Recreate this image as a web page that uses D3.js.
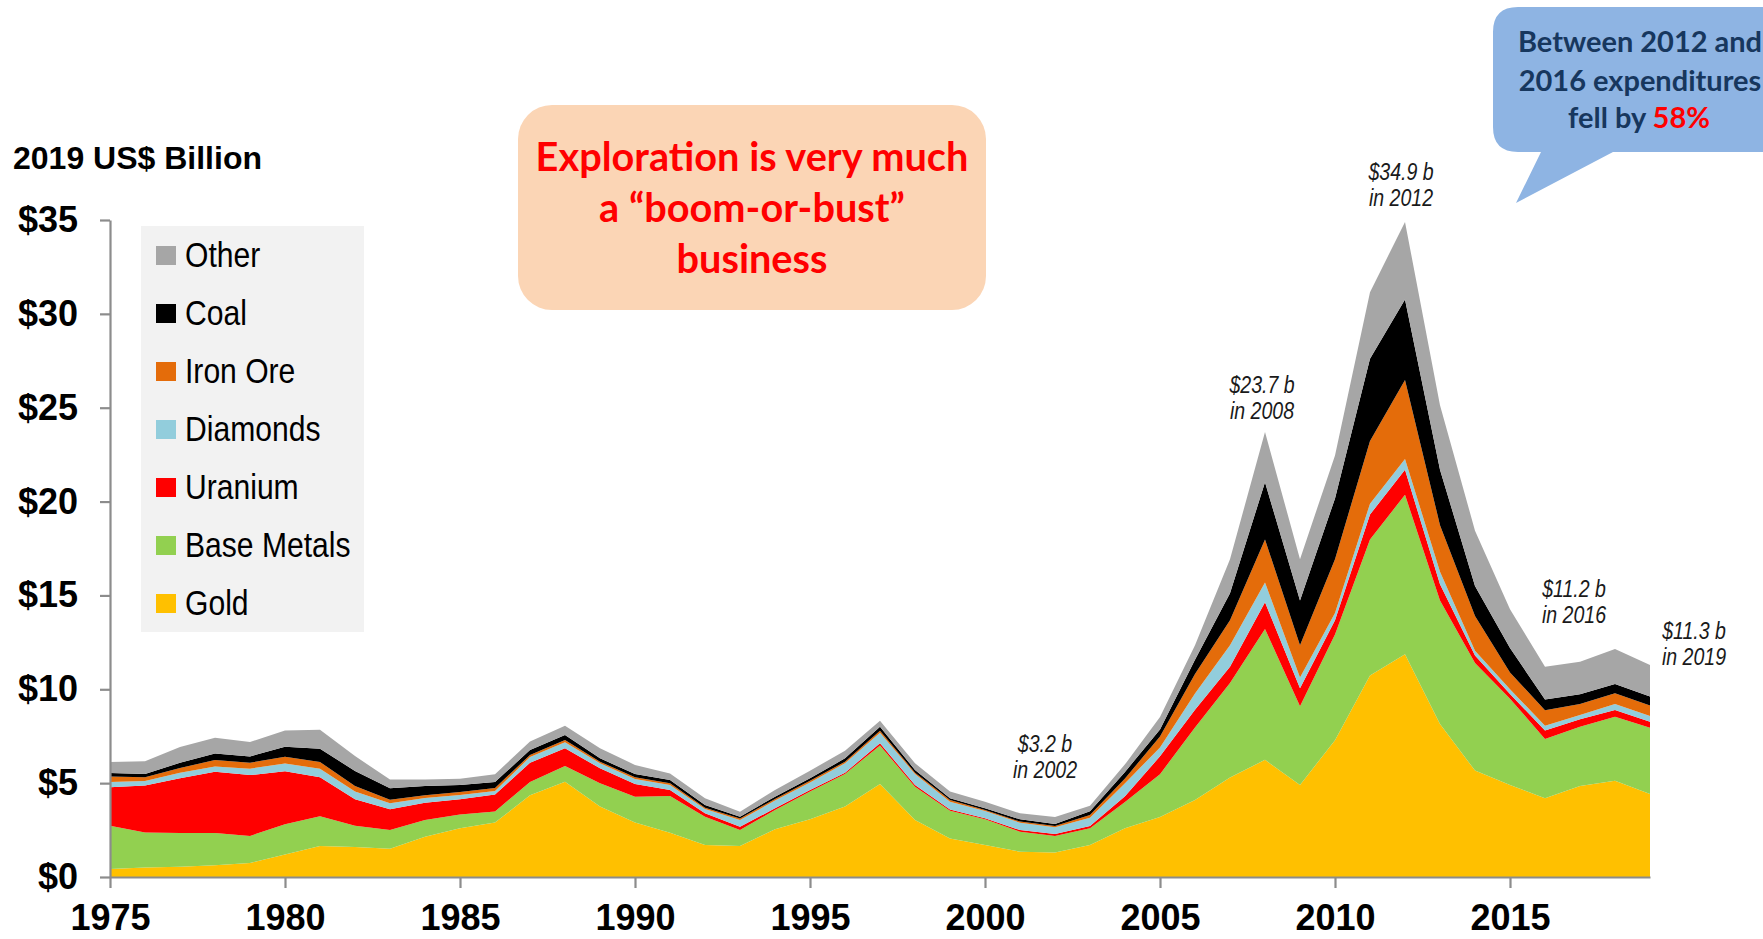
<!DOCTYPE html>
<html><head><meta charset="utf-8">
<script src="https://cdn.jsdelivr.net/npm/d3@7"></script>
<style>body{margin:0;background:#fff;}svg{display:block;}</style>
</head><body>
<svg id="c" width="1763" height="939"></svg>
<script>
const years = [1975,1976,1977,1978,1979,1980,1981,1982,1983,1984,1985,1986,1987,1988,1989,1990,1991,1992,1993,1994,1995,1996,1997,1998,1999,2000,2001,2002,2003,2004,2005,2006,2007,2008,2009,2010,2011,2012,2013,2014,2015,2016,2017,2018,2019];
const gold = [0.42,0.50,0.55,0.62,0.75,1.20,1.65,1.60,1.50,2.15, 2.60,2.90,4.35,5.08,3.75,2.91,2.36,1.70,1.65,2.54, 3.07,3.75,4.95,3.04,2.05,1.70,1.35,1.30,1.70,2.60, 3.20,4.10,5.30,6.24,4.90,7.29,10.73,11.87,8.15,5.67, 4.90,4.20,4.85,5.13,4.42];
const baseMetals = [2.31,1.87,1.79,1.72,1.44,1.61,1.59,1.13,1.01,0.89, 0.73,0.59,0.71,0.83,1.24,1.37,1.96,1.51,0.85,1.03, 1.48,1.74,2.05,1.77,1.48,1.37,1.06,0.88,0.90,1.40, 2.28,3.86,5.04,6.97,4.20,5.63,7.25,8.49,6.58,5.73, 4.60,3.15,3.16,3.41,3.53];
const uranium = [2.05,2.51,2.92,3.27,3.24,2.82,2.07,1.41,1.10,0.91, 0.81,0.90,1.03,0.95,0.80,0.67,0.32,0.18,0.18,0.09, 0.09,0.07,0.12,0.09,0.07,0.06,0.09,0.11,0.12,0.30, 0.95,0.95,0.86,1.43,0.96,0.76,1.33,1.34,0.86,0.40, 0.25,0.45,0.39,0.36,0.32];
const diamonds = [0.28,0.24,0.30,0.28,0.34,0.41,0.46,0.41,0.32,0.26, 0.23,0.19,0.30,0.32,0.27,0.27,0.26,0.23,0.36,0.41, 0.40,0.50,0.57,0.59,0.41,0.39,0.39,0.36,0.43,0.70, 0.47,0.86,1.15,1.05,0.57,0.38,0.58,0.57,0.67,0.25, 0.25,0.26,0.23,0.32,0.31];
const ironOre = [0.29,0.19,0.25,0.34,0.32,0.37,0.35,0.30,0.18,0.14, 0.16,0.16,0.11,0.12,0.08,0.09,0.09,0.07,0.07,0.09, 0.09,0.08,0.10,0.07,0.09,0.05,0.06,0.07,0.15,0.25, 0.58,1.05,1.33,2.29,1.72,2.87,3.34,4.20,2.48,1.85, 0.90,0.82,0.59,0.57,0.55];
const coal = [0.19,0.18,0.28,0.35,0.33,0.53,0.71,0.80,0.62,0.50, 0.37,0.32,0.26,0.26,0.18,0.18,0.18,0.15,0.10,0.12, 0.13,0.18,0.22,0.14,0.09,0.09,0.12,0.10,0.20,0.35, 0.38,0.76,1.43,3.05,2.38,3.24,4.38,4.29,2.96,1.60, 1.30,0.57,0.51,0.49,0.48];
const other = [0.58,0.67,0.83,0.84,0.77,0.87,1.01,0.79,0.47,0.35, 0.34,0.41,0.46,0.50,0.54,0.48,0.35,0.35,0.27,0.35, 0.40,0.41,0.32,0.36,0.36,0.35,0.32,0.38,0.30,0.40, 0.67,0.77,1.82,2.67,2.20,2.29,3.54,4.14,3.43,2.95, 2.06,1.75,1.74,1.87,1.69];

const seriesNames = ["Gold","Base Metals","Uranium","Diamonds","Iron Ore","Coal","Other"];
const seriesData = [gold, baseMetals, uranium, diamonds, ironOre, coal, other];
const colors = ["#ffc000","#92d050","#ff0000","#92cddc","#e46c0a","#000000","#a6a6a6"];
const yTicks = [0,5,10,15,20,25,30,35];
const xTicks = [1975,1980,1985,1990,1995,2000,2005,2010,2015];
const annotations = [
  {year:2002, l1:"$3.2 b", l2:"in 2002"},
  {year:2008, l1:"$23.7 b", l2:"in 2008"},
  {year:2012, l1:"$34.9 b", l2:"in 2012"},
  {year:2016, l1:"$11.2 b", l2:"in 2016"},
  {year:2019, l1:"$11.3 b", l2:"in 2019"}
];

const table = years.map((yr,i)=>{const o={year:yr}; seriesNames.forEach((n,k)=>o[n]=seriesData[k][i]); return o;});

const svg = d3.select("#c");
const x = d3.scaleLinear().domain([1975,2019]).range([110,1650]);
const y = d3.scaleLinear().domain([0,35]).range([877,220]);

const stack = d3.stack().keys(seriesNames)(table);
const area = d3.area().x(d=>x(d.data.year)).y0(d=>y(d[0])).y1(d=>y(d[1]));
svg.append("g").selectAll("path").data(stack).join("path")
  .attr("d", area).attr("fill",(d,i)=>colors[i]);

// axes
const yAx = svg.append("g").attr("transform","translate(110,0)")
  .call(d3.axisLeft(y).tickValues(yTicks).tickSize(10).tickSizeOuter(0).tickPadding(22).tickFormat(d=>"$"+d));
const xAx = svg.append("g").attr("transform","translate(0,877)")
  .call(d3.axisBottom(x).tickValues(xTicks).tickSize(11).tickSizeOuter(0).tickPadding(16).tickFormat(d3.format("d")));
[yAx,xAx].forEach(a=>{
  a.selectAll("path,line").attr("stroke","#8c8c8c").attr("stroke-width",2.2);
  a.selectAll("text").attr("font-family","'Liberation Sans',Arial,sans-serif").attr("font-weight","bold").attr("font-size",36).attr("fill","#000");
});

svg.append("text").attr("x",13).attr("y",169).text("2019 US$ Billion")
  .attr("font-family","'Liberation Sans',Arial,sans-serif").attr("font-weight","bold").attr("font-size",32);

// legend
svg.append("rect").attr("x",141).attr("y",226).attr("width",223).attr("height",406).attr("fill","#f2f2f2");
const legOrder = seriesNames.map((n,i)=>({n,c:colors[i]})).reverse();
const lg = svg.append("g").selectAll("g").data(legOrder).join("g");
lg.append("rect").attr("x",156).attr("y",(d,i)=>246+58*i).attr("width",20).attr("height",19).attr("fill",d=>d.c);
lg.append("text").attr("transform",(d,i)=>`translate(185,${267+58*i}) scale(0.86,1)`).text(d=>d.n)
  .attr("font-family","'Liberation Sans',Arial,sans-serif").attr("font-size",35).attr("fill","#000");

// annotations
const annPos = {2002:[1045,752],2008:[1262,393],2012:[1401,180],2016:[1574,597],2019:[1694,639]};
annotations.forEach(a=>{
  const [cx,by] = annPos[a.year];
  [a.l1,a.l2].forEach((t,j)=>{
    svg.append("text").attr("transform",`translate(${cx},${by+26*j}) scale(0.85,1)`).attr("text-anchor","middle")
      .attr("font-family","'Liberation Sans',Arial,sans-serif").attr("font-style","italic").attr("font-size",23)
      .attr("fill","#1a1a1a").text(t);
  });
});

// boom-or-bust box
svg.append("rect").attr("x",518).attr("y",105).attr("width",468).attr("height",205).attr("rx",34).attr("fill","#fbd5b5");
const boomLines = ["Exploration is very much","a \u201cboom-or-bust\u201d","business"];
const bt = svg.append("g").selectAll("text").data(boomLines).join("text")
  .attr("x",752).attr("y",(d,i)=>171+51*i).attr("text-anchor","middle")
  .attr("font-family","Lato,'Open Sans',sans-serif").attr("font-weight","bold").attr("font-size",36).attr("fill","#ff0000").text(d=>d);
{
  const w = bt.nodes()[0].getComputedTextLength();
  bt.attr("font-size", 36*433/w);
}

// callout
const cp = d3.path();
cp.moveTo(1518,7); cp.lineTo(1800,7); cp.lineTo(1800,152); cp.lineTo(1613,152); cp.lineTo(1516,203); cp.lineTo(1541,152);
cp.lineTo(1518,152); cp.quadraticCurveTo(1493,152,1493,127); cp.lineTo(1493,32); cp.quadraticCurveTo(1493,7,1518,7); cp.closePath();
svg.append("path").attr("d",cp.toString()).attr("fill","#8eb4e3");
const ct = svg.append("g").attr("font-family","Lato,'Open Sans',sans-serif").attr("font-weight","bold").attr("fill","#17375e");
ct.append("text").attr("x",1640).attr("y",52).attr("text-anchor","middle").text("Between 2012 and");
ct.append("text").attr("x",1640).attr("y",91).attr("text-anchor","middle").text("2016 expenditures");
const c3 = ct.append("text").attr("x",1639).attr("y",128).attr("text-anchor","middle");
c3.append("tspan").text("fell by ");
c3.append("tspan").attr("fill","#ff0000").text("58%");
ct.attr("font-size",28);
{
  const w = c3.node().getComputedTextLength();
  ct.attr("font-size", 28*142/w);
}
</script>
</body></html>
